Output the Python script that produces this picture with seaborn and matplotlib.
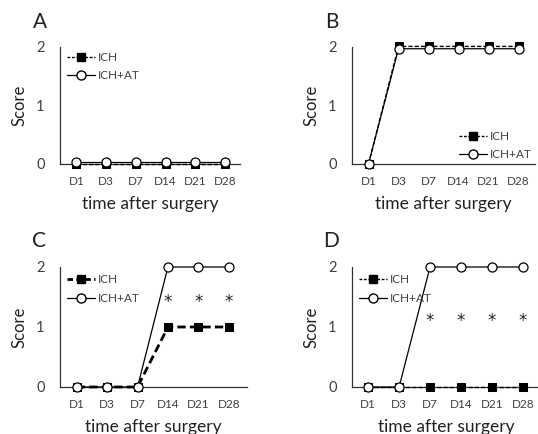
import matplotlib
matplotlib.use("Agg")
import matplotlib.pyplot as plt
import seaborn as sns
import pandas as pd
from matplotlib.lines import Line2D

sns.set_theme(style="white")
plt.rcParams['font.family'] = ['Lato', 'DejaVu Sans']

days = ["D1", "D3", "D7", "D14", "D21", "D28"]
a_ich = [0, 0, 0, 0, 0, 0]
a_at = [0.04, 0.04, 0.04, 0.04, 0.04, 0.04]
b_ich = [0, 2.01, 2.01, 2.01, 2.01, 2.01]
b_at = [0, 1.97, 1.97, 1.97, 1.97, 1.97]
c_ich = [0, 0, 0, 1, 1, 1]
c_at = [0, 0, 0, 2, 2, 2]
d_ich = [0, 0, 0, 0, 0, 0]
d_at = [0, 0, 2, 2, 2, 2]
c_star_days = ["D14", "D21", "D28"]
c_star_y = 1.42
d_star_days = ["D7", "D14", "D21", "D28"]
d_star_y = 1.1
yticks = [0, 1, 2]

W, H = 538, 434
fig = plt.figure(figsize=(W / 100, H / 100), dpi=100)

# pixel boxes: left, top, right, bottom
boxes = {
    "A": (60, 47, 240, 164),
    "B": (352, 47, 535, 164),
    "C": (60, 267, 247, 387),
    "D": (352, 267, 540, 387),
}
xlims = {
    "A": (-0.55, 5.5),
    "B": (-0.55, 5.55),
    "C": (-0.55, 5.6),
    "D": (-0.52, 5.55),
}
panels = {
    "A": (a_ich, a_at, 1.0, "upper left", None, None),
    "B": (b_ich, b_at, 1.0, "lower right", None, None),
    "C": (c_ich, c_at, 2.0, "upper left", c_star_days, c_star_y),
    "D": (d_ich, d_at, 1.0, "upper left", d_star_days, d_star_y),
}
legend_anchor = {
    "A": (0.0, 1.02),
    "B": (1.02, -0.03),
    "C": (0.0, 1.0),
    "D": (0.0, 1.0),
}

gray = "#404040"
for key, (l, t, r, b) in boxes.items():
    ax = fig.add_axes([l / W, 1 - b / H, (r - l) / W, (b - t) / H])
    ich, at, lw_ich, loc, sdays, sy = panels[key]
    df = pd.DataFrame({"day": days * 2, "score": ich + at,
                       "group": ["ICH"] * 6 + ["ICH+AT"] * 6})
    sns.lineplot(data=df[df.group == "ICH"], x="day", y="score", ax=ax,
                 color="black", lw=lw_ich, ls=(0, (3, 1.5)), marker="s",
                 markersize=5.5, markerfacecolor="black",
                 markeredgecolor="black", clip_on=False, zorder=3, legend=False)
    sns.lineplot(data=df[df.group == "ICH+AT"], x="day", y="score", ax=ax,
                 color="black", lw=0.9, marker="o", markersize=6.5,
                 markerfacecolor="white", markeredgecolor="black",
                 markeredgewidth=0.9, clip_on=False, zorder=4, legend=False)
    if sdays is not None:
        for d in sdays:
            ax.text(days.index(d), sy, "*", ha="center", va="center",
                    fontsize=12, color="#222222", family="DejaVu Sans")
    ax.set_xlim(*xlims[key])
    ax.set_ylim(0, 2)
    ax.set_yticks(yticks)
    ax.set_yticklabels([str(v) for v in yticks], fontsize=10.5, color=gray)
    ax.tick_params(axis="x", labelsize=8.5, colors=gray, length=0, pad=9)
    ax.tick_params(axis="y", length=0, pad=11)
    ax.set_xlabel("time after surgery", fontsize=12.5, color="#222222", labelpad=6)
    ax.set_ylabel("Score", fontsize=12, color="#222222", labelpad=6)
    for s in ["top", "right"]:
        ax.spines[s].set_visible(False)
    for s in ["left", "bottom"]:
        ax.spines[s].set_color("#333333")
        ax.spines[s].set_linewidth(0.9)
    handles = [
        Line2D([], [], color="black", lw=lw_ich, ls=(0, (2, 1.2)), marker="s",
               markersize=5.5, markerfacecolor="black"),
        Line2D([], [], color="black", lw=0.9, marker="o", markersize=6.5,
               markerfacecolor="white", markeredgecolor="black"),
    ]
    leg = ax.legend(handles, ["ICH", "ICH+AT"], loc=loc,
                    bbox_to_anchor=legend_anchor[key], frameon=False,
                    fontsize=8.5, handlelength=2.4, handletextpad=0.2,
                    borderaxespad=0.2, labelspacing=0.65)
    for txt in leg.get_texts():
        txt.set_color(gray)
    ax.text(-0.11, 1.13, key, transform=ax.transAxes, fontsize=15,
            color="#222222", ha="center", va="bottom")

fig.savefig("out.png", dpi=100)
